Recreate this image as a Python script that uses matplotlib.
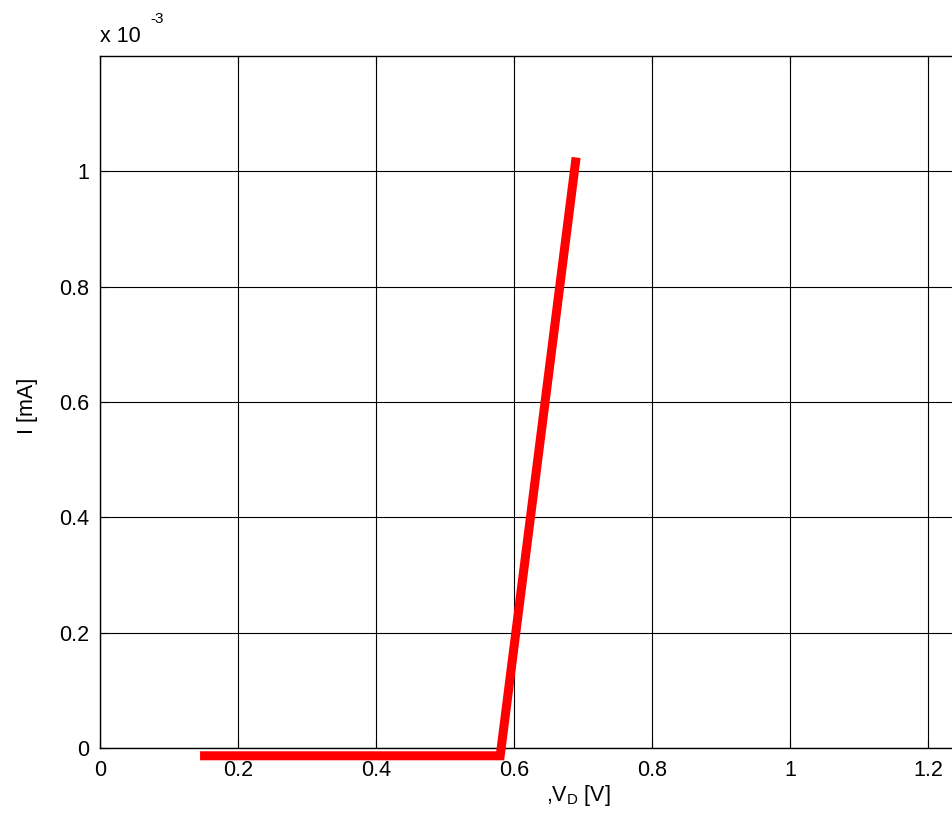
import matplotlib
matplotlib.use('Agg')
import matplotlib.pyplot as plt

plt.rcParams['font.family'] = ['Liberation Sans', 'DejaVu Sans']
plt.rcParams['mathtext.fontset'] = 'custom'
plt.rcParams['mathtext.rm'] = 'Liberation Sans'
plt.rcParams['mathtext.it'] = 'Liberation Sans'

# diode characteristic: voltage [V] vs current [A]
v_d = [0.145, 0.58, 0.69]
i_d = [-0.0000135, -0.0000135, 0.001024]

x_ticks = [0, 0.2, 0.4, 0.6, 0.8, 1.0, 1.2, 1.4]
x_labels = ['0', '0.2', '0.4', '0.6', '0.8', '1', '1.2', '']
y_ticks = [0, 0.0002, 0.0004, 0.0006, 0.0008, 0.001]
y_labels = ['0', '0.2', '0.4', '0.6', '0.8', '1']

W, H = 952, 819
fig = plt.figure(figsize=(W / 100, H / 100), dpi=100)
left, bottom, top = 100, 748, 56
ax_w = 1.4 * 690
ax = fig.add_axes([left / W, (H - bottom) / H, ax_w / W, (bottom - top) / H])

ax.plot(v_d, i_d, color='red', linewidth=6.5, solid_capstyle='butt',
        solid_joinstyle='miter', clip_on=False, zorder=5)

ax.set_xlim(0, 1.4)
ax.set_ylim(0, 0.0012)
ax.set_xticks(x_ticks)
ax.set_xticklabels(x_labels)
ax.set_yticks(y_ticks)
ax.set_yticklabels(y_labels)
ax.grid(True, color='black', linewidth=0.8)
ax.tick_params(direction='in', length=6, labelsize=15.5, top=True, right=True)
ax.tick_params(axis='x', pad=8.5)
ax.tick_params(axis='y', pad=7.5)
for s in ax.spines.values():
    s.set_linewidth(1.0)

fig.text(578 / W, 1 - 796 / H, r',V$_{\mathrm{D}}$ [V]', fontsize=15.5,
         ha='center', va='center')
fig.text(27 / W, 1 - 406 / H, 'I [mA]', fontsize=15.5, rotation=90,
         ha='center', va='center')

fig.text(100 / W, 1 - 42 / H, 'x 10', fontsize=15.5, va='baseline', ha='left')
fig.text(150 / W, 1 - 23 / H, '-3', fontsize=11, va='baseline', ha='left')

fig.savefig('out.png', dpi=100)
